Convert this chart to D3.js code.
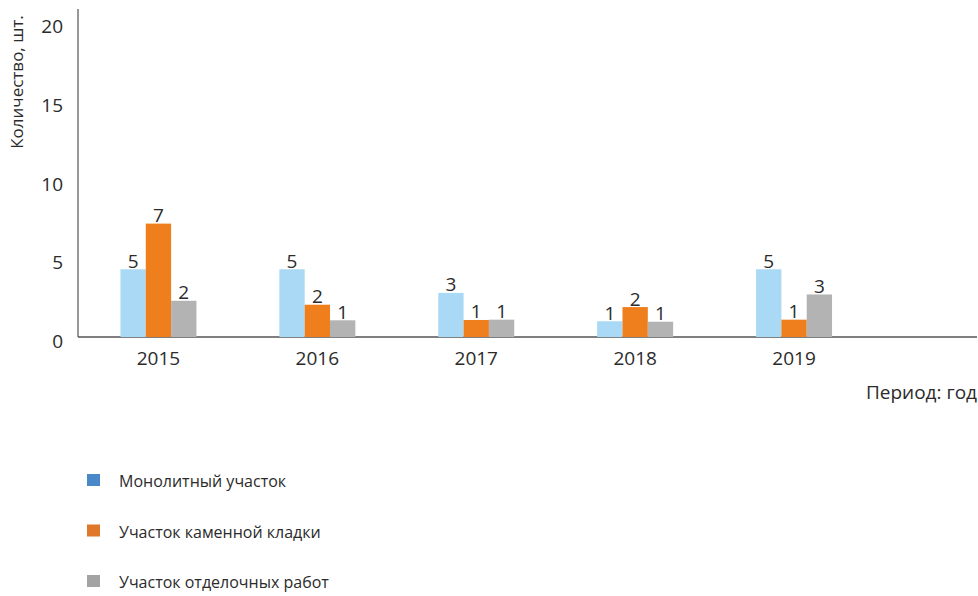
<!DOCTYPE html>
<html><head><meta charset="utf-8">
<script src="https://cdn.jsdelivr.net/npm/d3@7"></script>
<style>
html,body{margin:0;padding:0;background:#fff;}
text{font-family:"Open Sans",sans-serif;fill:#2b2b2b;}
</style></head>
<body><svg id="c" width="978" height="596"></svg>
<script>
const years = ["2015","2016","2017","2018","2019"];
const seriesNames = ["Монолитный участок","Участок каменной кладки","Участок отделочных работ"];
// bar heights as drawn in the picture
const monolith = [4.3, 4.3, 2.8, 1.0, 4.3];
const masonry  = [7.2, 2.05, 1.08, 1.9, 1.1];
const finishing= [2.3, 1.06, 1.1, 0.97, 2.7];
// printed data labels
const monolithLabels = [5, 5, 3, 1, 5];
const masonryLabels  = [7, 2, 1, 2, 1];
const finishingLabels= [2, 1, 1, 1, 3];
const yTicks = [0, 5, 10, 15, 20];
const barColors = ["#a9d9f5", "#ef7f1d", "#b3b3b3"];
const legendColors = ["#4a89c9", "#e0782c", "#a3a3a3"];

const values = [monolith, masonry, finishing];
const labels = [monolithLabels, masonryLabels, finishingLabels];

const svg = d3.select("#c");
const y = d3.scaleLinear().domain([0, 20]).range([337, 22]);
const x = d3.scalePoint().domain(years).range([79, 873.5]).padding(0.5);
const xs = d3.scaleBand().domain(d3.range(3)).range([-38, 38]);

// axes lines
svg.append("line").attr("x1", 78).attr("x2", 78).attr("y1", 9).attr("y2", 337)
  .attr("stroke", "#555").attr("stroke-width", 1.2);
svg.append("line").attr("x1", 78).attr("x2", 977).attr("y1", 337).attr("y2", 337)
  .attr("stroke", "#555").attr("stroke-width", 1.5);

// y tick labels
svg.selectAll(".yt").data(yTicks).enter().append("text")
  .attr("x", 63).attr("y", d => y(d) + 4)
  .attr("text-anchor", "end").attr("dominant-baseline", "central")
  .style("font-size", "19px").text(d => d);

// y title
svg.append("text").attr("transform", "translate(23,82) rotate(-90)")
  .attr("text-anchor", "middle").style("font-size", "17px").text("Количество, шт.");

// x labels
svg.selectAll(".xt").data(years).enter().append("text")
  .attr("x", d => x(d)).attr("y", 358)
  .attr("text-anchor", "middle").attr("dominant-baseline", "central")
  .style("font-size", "19px").text(d => d);

svg.append("text").attr("x", 977).attr("y", 392)
  .attr("text-anchor", "end").attr("dominant-baseline", "central")
  .style("font-size", "19px").text("Период: год");

// bars
values.forEach((vals, s) => {
  const g = svg.append("g");
  g.selectAll("rect").data(vals).enter().append("rect")
    .attr("x", (d, i) => x(years[i]) + xs(s))
    .attr("width", xs.bandwidth())
    .attr("y", d => y(d))
    .attr("height", d => y(0) - y(d))
    .attr("fill", barColors[s]);
  g.selectAll("text").data(vals).enter().append("text")
    .attr("x", (d, i) => x(years[i]) + xs(s) + xs.bandwidth() / 2)
    .attr("y", d => y(d) - 1.5)
    .attr("text-anchor", "middle")
    .style("font-size", "19px")
    .text((d, i) => labels[s][i]);
});

// legend
const lg = svg.selectAll(".lg").data(seriesNames).enter().append("g")
  .attr("transform", (d, i) => `translate(87,${480 + i * 50.5})`);
lg.append("rect").attr("x", 0).attr("y", -6).attr("width", 13).attr("height", 12)
  .attr("fill", (d, i) => legendColors[i]);
lg.append("text").attr("x", 32).attr("y", 1).attr("dominant-baseline", "central")
  .style("font-size", "16px").text(d => d);
</script></body></html>
